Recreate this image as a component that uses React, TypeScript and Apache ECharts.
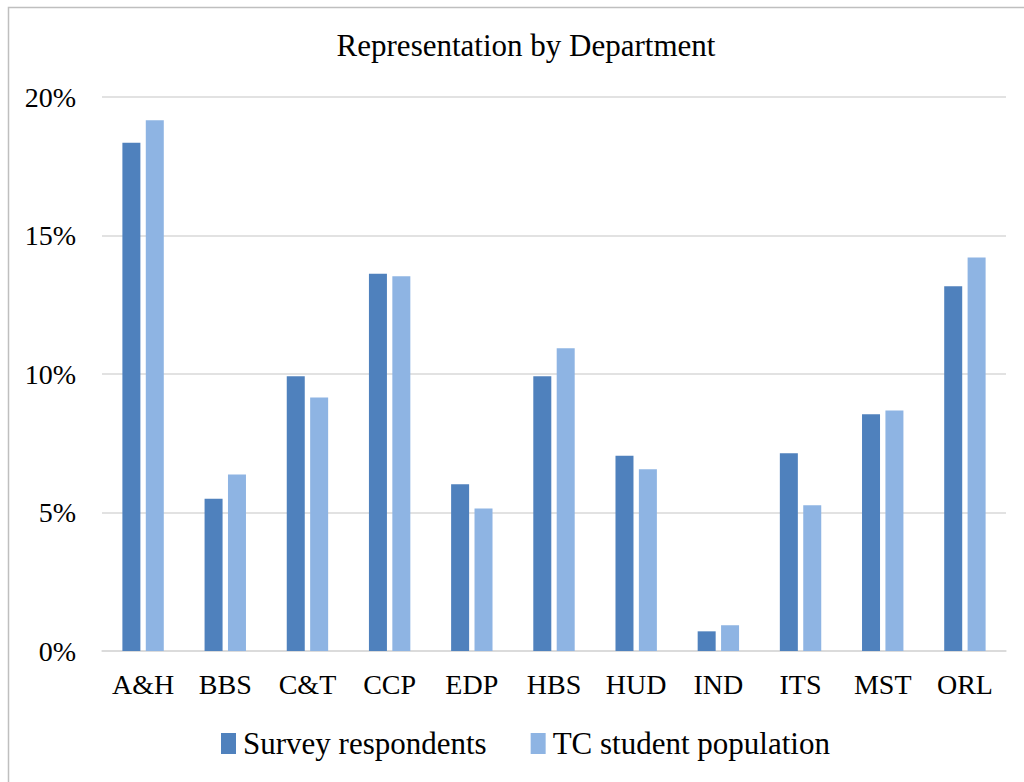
import React, { useEffect, useRef } from "react";
import * as echarts from "echarts";

const categories = ["A&H", "BBS", "C&T", "CCP", "EDP", "HBS", "HUD", "IND", "ITS", "MST", "ORL"];
const surveyRespondents = [18.35, 5.5, 9.92, 13.62, 6.02, 9.92, 7.05, 0.71, 7.14, 8.55, 13.17];
const tcStudentPopulation = [19.16, 6.37, 9.15, 13.53, 5.14, 10.93, 6.56, 0.93, 5.26, 8.68, 14.21];
const seriesNames = ["Survey respondents", "TC student population"];
const titleText = "Representation by Department";

const FONT = "'Liberation Serif', 'Times New Roman', serif";

export default function App() {
  const ref = useRef<HTMLDivElement>(null);
  useEffect(() => {
    if (!ref.current) return;
    const chart = echarts.init(ref.current, null, { renderer: "svg" });
    chart.setOption({
      animation: false,
      backgroundColor: "#ffffff",
      title: {
        text: titleText,
        left: 521,
        textAlign: "center",
        top: 25,
        textStyle: { fontFamily: FONT, fontSize: 31, fontWeight: "normal", color: "#000" },
      },
      graphic: [
        {
          type: "rect",
          shape: { x: 8.5, y: 7.5, width: 1100, height: 900 },
          style: { fill: "none", stroke: "#BFBFBF", lineWidth: 1.5 },
          silent: true,
        },
      ],
      legend: {
        data: seriesNames,
        left: 216,
        top: 723,
        itemWidth: 15,
        itemHeight: 21,
        itemGap: 44,
        icon: "rect",
        textStyle: { fontFamily: FONT, fontSize: 31, color: "#000", padding: [0, 0, 0, 2] },
      },
      grid: { left: 102, right: 18, top: 97, bottom: 131, containLabel: false },
      xAxis: {
        type: "category",
        data: categories,
        axisLine: { show: true, lineStyle: { color: "#D9D9D9", width: 1.5 } },
        axisTick: { show: false },
        axisLabel: { fontFamily: FONT, fontSize: 28, color: "#000", margin: 19, interval: 0 },
      },
      yAxis: {
        type: "value",
        min: 0,
        max: 20,
        interval: 5,
        axisLine: { show: false },
        axisTick: { show: false },
        splitLine: { lineStyle: { color: "#D9D9D9", width: 1.5 } },
        axisLabel: { fontFamily: FONT, fontSize: 28, color: "#000", margin: 26, formatter: "{value}%" },
      },
      series: [
        {
          name: seriesNames[0],
          type: "bar",
          data: surveyRespondents,
          barWidth: 18,
          barGap: "30%",
          itemStyle: { color: "#4F81BD" },
        },
        {
          name: seriesNames[1],
          type: "bar",
          data: tcStudentPopulation,
          barWidth: 18,
          barGap: "30%",
          itemStyle: { color: "#8EB4E3" },
        },
      ],
    });
    return () => chart.dispose();
  }, []);
  return (
    <div
      ref={ref}
      style={{ position: "absolute", left: 0, top: 0, width: 1024, height: 782 }}
    />
  );
}
